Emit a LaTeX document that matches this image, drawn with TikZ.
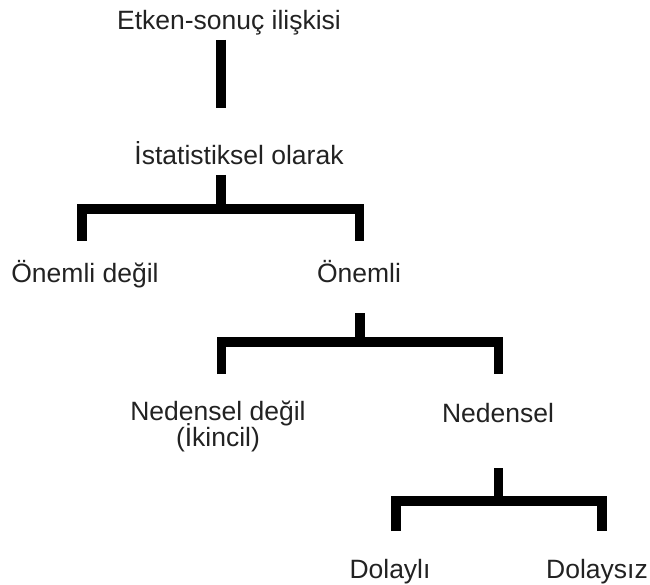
\documentclass[tikz,border=0pt]{standalone}
\usepackage{fontspec}
\setmainfont{Liberation Sans}
\definecolor{ink}{HTML}{222222}
\begin{document}
\begin{tikzpicture}[x=1pt,y=-1pt,
  label/.style={font=\fontsize{26.5}{31}\selectfont, text=ink, anchor=base, inner sep=0pt},
  bar/.style={line width=9.5pt, draw=black, line join=miter, line cap=butt}]
\useasboundingbox (0,0) rectangle (650,585);

% level labels
\node[label] (root) at (229,30) {Etken-sonuç ilişkisi};
\node[label] (stat) at (239,165) {İstatistiksel olarak};
\node[label] (nsig) at (85,283) {Önemli değil};
\node[label] (sig)  at (359,283) {Önemli};
\node[label] (ncau) at (218,420) {Nedensel değil};
\node[label] (sec)  at (218,446) {(İkincil)};
\node[label] (cau)  at (498,422) {Nedensel};
\node[label] (ind)  at (390,578) {Dolaylı};
\node[label] (dir)  at (597,578) {Dolaysız};

% stem and bracket end points
\coordinate (s0a) at (221,40);   \coordinate (s0b) at (221,108);
\coordinate (s1)  at (221,175);  \coordinate (j1)  at (221,209);
\coordinate (l1)  at (82,241);   \coordinate (r1)  at (359.5,241);
\coordinate (s2)  at (360,313);  \coordinate (j2)  at (360,342);
\coordinate (l2)  at (221.5,374);\coordinate (r2)  at (498.5,374);
\coordinate (s3)  at (498.5,468);\coordinate (j3)  at (498.5,501);
\coordinate (l3)  at (396,531);  \coordinate (r3)  at (602,531);

% root stem
\draw[bar] (s0a) -- (s0b);

% statistical split
\draw[bar] (s1) -- (j1);
\draw[bar] (l1) |- (j1) -| (r1);

% significant split
\draw[bar] (s2) -- (j2);
\draw[bar] (l2) |- (j2) -| (r2);

% causal split
\draw[bar] (s3) -- (j3);
\draw[bar] (l3) |- (j3) -| (r3);
\end{tikzpicture}
\end{document}
